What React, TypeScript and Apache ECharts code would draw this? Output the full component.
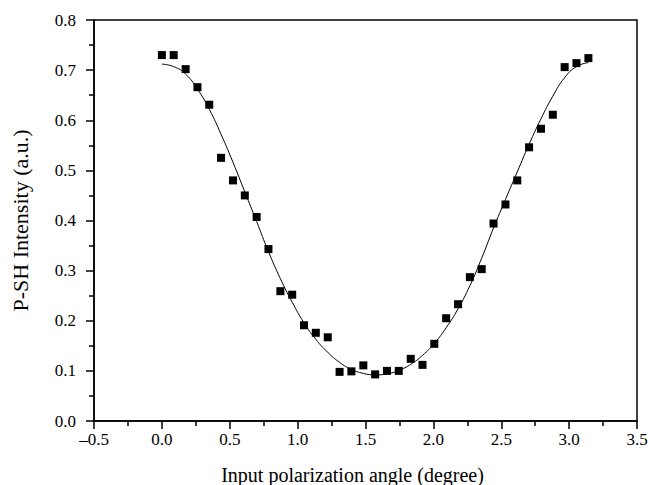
import React, { useEffect, useRef } from "react";
import * as echarts from "echarts";

const angles = [0.0, 0.087, 0.175, 0.262, 0.349, 0.436, 0.524, 0.611, 0.698, 0.785, 0.873, 0.96, 1.047, 1.134, 1.222, 1.309, 1.396, 1.484, 1.571, 1.658, 1.745, 1.833, 1.92, 2.007, 2.094, 2.182, 2.269, 2.356, 2.443, 2.531, 2.618, 2.705, 2.793, 2.88, 2.967, 3.054, 3.142];
const measured = [0.730, 0.730, 0.702, 0.666, 0.631, 0.525, 0.480, 0.450, 0.407, 0.343, 0.259, 0.252, 0.191, 0.176, 0.167, 0.098, 0.099, 0.111, 0.093, 0.100, 0.100, 0.124, 0.112, 0.154, 0.205, 0.233, 0.287, 0.303, 0.394, 0.432, 0.480, 0.546, 0.583, 0.611, 0.706, 0.714, 0.724];
const fitted = [0.712, 0.707, 0.692, 0.662, 0.622, 0.572, 0.516, 0.457, 0.398, 0.338, 0.284, 0.237, 0.196, 0.163, 0.137, 0.117, 0.103, 0.095, 0.092, 0.094, 0.101, 0.113, 0.131, 0.155, 0.186, 0.224, 0.270, 0.325, 0.385, 0.442, 0.497, 0.552, 0.603, 0.648, 0.685, 0.707, 0.715];

const FONT = "'Liberation Serif', 'DejaVu Serif', serif";

export default function App() {
  const ref = useRef<HTMLDivElement>(null);
  useEffect(() => {
    if (!ref.current) return;
    const chart = echarts.init(ref.current, null, { renderer: "svg" });
    const axisCommon = {
      axisLine: { show: true, onZero: false, lineStyle: { color: "#000", width: 1.5 } },
      axisTick: { show: true, inside: false, length: 8, lineStyle: { color: "#000", width: 1.5 } },
      minorTick: { show: true, splitNumber: 2, length: 5, lineStyle: { color: "#000", width: 1.5 } },
      splitLine: { show: false },
      minorSplitLine: { show: false },
    };
    chart.setOption({
      animation: false,
      backgroundColor: "#fff",
      grid: {
        left: 94, right: 11, top: 20, bottom: 64,
        containLabel: false, outerBoundsMode: "none",
        show: true, borderColor: "#000", borderWidth: 1.5,
      },
      xAxis: {
        type: "value",
        min: -0.5,
        max: 3.5,
        interval: 0.5,
        ...axisCommon,
        axisLabel: {
          margin: 10,
          color: "#000",
          fontFamily: FONT,
          fontSize: 17,
          formatter: (v: number) => v.toFixed(1).replace("-", "\u2013"),
        },
        name: "Input polarization angle (degree)",
        nameLocation: "middle",
        nameGap: 44,
        nameTextStyle: { color: "#000", fontFamily: FONT, fontSize: 20, padding: [0, 26, 0, 0] },
      },
      yAxis: {
        type: "value",
        min: 0,
        max: 0.8,
        interval: 0.1,
        ...axisCommon,
        axisLabel: {
          margin: 18,
          color: "#000",
          fontFamily: FONT,
          fontSize: 17,
          formatter: (v: number) => v.toFixed(1),
        },
        name: "P-SH Intensity (a.u.)",
        nameLocation: "middle",
        nameGap: 63,
        nameTextStyle: { color: "#000", fontFamily: FONT, fontSize: 22 },
      },
      series: [
        {
          type: "line",
          data: angles.map((a, i) => [a, fitted[i]]),
          smooth: true,
          showSymbol: false,
          lineStyle: { color: "#000", width: 1 },
          z: 2,
        },
        {
          type: "scatter",
          data: angles.map((a, i) => [a, measured[i]]),
          symbol: "rect",
          symbolSize: 8,
          itemStyle: { color: "#000", opacity: 1 },
          z: 3,
        },
      ],
    });
    return () => chart.dispose();
  }, []);
  return <div ref={ref} style={{ width: 648, height: 485, position: "absolute", left: 0, top: 0 }} />;
}
